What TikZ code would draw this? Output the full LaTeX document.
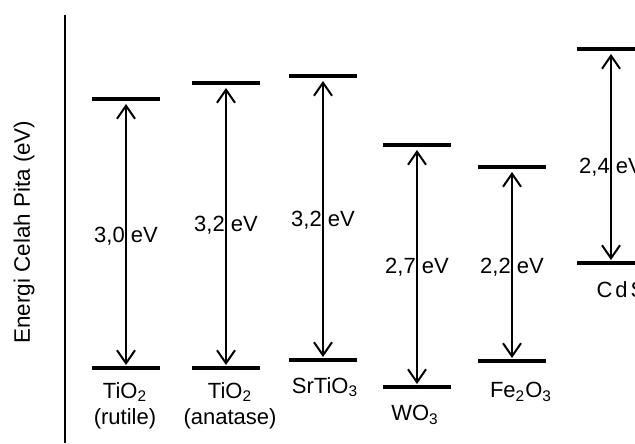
\documentclass[tikz,border=0pt]{standalone}
\usepackage{fontspec}
\setmainfont{Liberation Sans}
\usetikzlibrary{arrows.meta,positioning}
\tikzset{
  level/.style    = {line width=1.7pt},
  gaparrow/.style = {{Straight Barb[length=6.5pt,width=9pt]}-{Straight Barb[length=6.5pt,width=9pt]},
                     line width=1pt, shorten <=2.5pt, shorten >=1.5pt},
  gaplabel/.style = {inner sep=0pt, font=\fontsize{11}{12}\selectfont},
  matlabel/.style = {inner sep=0pt, anchor=north, align=center,
                     font=\fontsize{11}{13}\selectfont},
}
\begin{document}
\begin{tikzpicture}[x=0.5pt,y=-0.5pt]
\useasboundingbox (0,0) rectangle (635,443);
% axis
\coordinate (axtop) at (65,15);
\coordinate (axbot) at (65,443);
\draw[line width=1.1pt] (axtop) -- (axbot);
\node[rotate=90,font=\fontsize{11.2}{13}\selectfont] (axlabel) at (24,232) {Energi Celah Pita (eV)};
% band gaps
\foreach \n/\x/\yt/\yb/\g/\gy/\lx/\ly/\m in {
  rut/126/99/368/{3,0}/236/125/14/{TiO\textsubscript{2}\\(rutile)},
  ana/226/83/368/{3,2}/225/230/14/{TiO\textsubscript{2}\\(anatase)},
  sto/323/76/360/{3,2}/220/325/17/{SrTiO\textsubscript{3}},
  wo/417/145/387/{2,7}/267/415/18/{WO\textsubscript{3}},
  fe/512/167/361/{2,2}/267/521/21/{Fe\textsubscript{2}O\textsubscript{3}},
  cds/611/49/263/{2,4}/167/621/18/{C\hspace{1.5pt}d\hspace{1.5pt}S}}{
  \coordinate (top\n) at (\x,\yt);
  \coordinate (bot\n) at (\x,\yb);
  \draw[level] (top\n) ++(-34,0) -- ++(68,0);
  \draw[level] (bot\n) ++(-34,0) -- ++(68,0);
  \draw[gaparrow] (top\n) -- (bot\n);
  \node[gaplabel] (gap\n) at (\x,\gy) {\g\ eV};
  \node[matlabel] (mat\n) at (\lx,\yb+\ly) {\m};
}
\end{tikzpicture}
\end{document}
